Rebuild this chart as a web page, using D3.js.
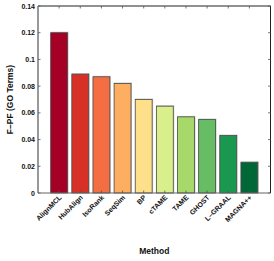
<!DOCTYPE html>
<html lang="en">
<head>
    <meta charset="utf-8" />
    <title></title>
    <style>
        body {
            margin: 0;
            background-color: white;
            font-family: 'Liberation Sans', Arial, sans-serif;
        }

        text {
            font-weight: bold;
            fill: #111;
        }

        .tick-label {
            font-size: 7px;
        }

        .axis-title {
            font-size: 8.5px;
        }
    </style>
    <script src="https://d3js.org/d3.v7.min.js"></script>
</head>
<body>
    <svg id="vis"></svg>
    <script type="text/javascript">
        var methods = ["AlignMCL", "HubAlign", "IsoRank", "SeqSim", "BP", "cTAME", "TAME", "GHOST", "L\u2013GRAAL", "MAGNA++"];
        var values = [0.120, 0.089, 0.087, 0.082, 0.070, 0.065, 0.057, 0.055, 0.043, 0.023];
        var colors = ["#a50026", "#d73027", "#f46d43", "#fdae61", "#fee08b", "#d9ef8b", "#a6d96a", "#66bd63", "#1a9850", "#006837"];
        var yTicks = [0, 0.02, 0.04, 0.06, 0.08, 0.1, 0.12, 0.14];

        var width = 274;
        var height = 261;
        var margin = { top: 6, left: 38, bottom: 68, right: 3.5 };

        var svg = d3.select("#vis")
            .attr("width", width)
            .attr("height", height);

        // matlab style: bars at 1..n, xlim [0, n+1]
        var x = d3.scaleLinear()
            .domain([0, methods.length + 1])
            .range([margin.left, width - margin.right]);

        var y = d3.scaleLinear()
            .domain([0, 0.14])
            .range([height - margin.bottom, margin.top]);

        var barW = (x(1) - x(0)) * 0.8;

        var bars = svg.append("g").attr("class", "bars");

        // light shadow on top of each bar
        bars.selectAll("rect.shadow").data(values)
            .enter().append("rect").attr("class", "shadow")
            .attr("x", (d, i) => x(i + 1) - barW / 2)
            .attr("y", (d) => y(d) - 1)
            .attr("width", barW + 1)
            .attr("height", (d) => y(0) - y(d) + 1)
            .attr("fill", "#c8c8c8");

        bars.selectAll("rect.bar").data(values)
            .enter().append("rect").attr("class", "bar")
            .attr("x", (d, i) => x(i + 1) - barW / 2)
            .attr("y", (d) => y(d))
            .attr("width", barW)
            .attr("height", (d) => y(0) - y(d))
            .attr("fill", (d, i) => colors[i])
            .attr("stroke", "#4a4a4a")
            .attr("stroke-width", 0.8);

        var x0 = x.range()[0], x1 = x.range()[1];
        var y0 = y.range()[0], y1 = y.range()[1];

        // box: top and right dark, left and bottom grey
        svg.append("line").attr("x1", x0).attr("x2", x1).attr("y1", y1).attr("y2", y1)
            .attr("stroke", "#222").attr("stroke-width", 1);
        svg.append("line").attr("x1", x1).attr("x2", x1).attr("y1", y1).attr("y2", y0)
            .attr("stroke", "#222").attr("stroke-width", 1);
        svg.append("line").attr("x1", x0).attr("x2", x1).attr("y1", y0).attr("y2", y0)
            .attr("stroke", "#666").attr("stroke-width", 1.2);
        svg.append("line").attr("x1", x0).attr("x2", x0).attr("y1", y1).attr("y2", y0)
            .attr("stroke", "#777").attr("stroke-width", 1.5);

        // inward ticks
        var tickLen = 2.5;
        var ticks = svg.append("g").attr("stroke", "#555").attr("stroke-width", 0.8);
        yTicks.forEach(function (t) {
            ticks.append("line").attr("x1", x0).attr("x2", x0 + tickLen).attr("y1", y(t)).attr("y2", y(t));
            ticks.append("line").attr("x1", x1).attr("x2", x1 - tickLen).attr("y1", y(t)).attr("y2", y(t));
        });
        methods.forEach(function (m, i) {
            ticks.append("line").attr("x1", x(i + 1)).attr("x2", x(i + 1)).attr("y1", y1).attr("y2", y1 + tickLen);
            ticks.append("line").attr("x1", x(i + 1)).attr("x2", x(i + 1)).attr("y1", y0).attr("y2", y0 - tickLen);
        });

        svg.append("g").selectAll("text").data(yTicks)
            .enter().append("text").attr("class", "tick-label")
            .attr("x", x0 - 3).attr("y", (d) => y(d))
            .attr("text-anchor", "end").attr("dominant-baseline", "central")
            .text((d) => d3.format("~g")(d));

        svg.append("g").selectAll("text").data(methods)
            .enter().append("text").attr("class", "tick-label")
            .attr("text-anchor", "end")
            .attr("transform", (d, i) => "translate(" + (x(i + 1) + 3) + "," + (y0 + 5) + ") rotate(-45)")
            .text((d) => d);

        svg.append("text").attr("class", "axis-title")
            .attr("text-anchor", "middle")
            .attr("x", (x0 + x1) / 2).attr("y", 254)
            .text("Method");

        svg.append("text").attr("class", "axis-title")
            .attr("text-anchor", "middle")
            .attr("transform", "translate(13," + ((y0 + y1) / 2) + ") rotate(-90)")
            .text("F\u2013PF (GO Terms)");
    </script>
</body>
</html>
